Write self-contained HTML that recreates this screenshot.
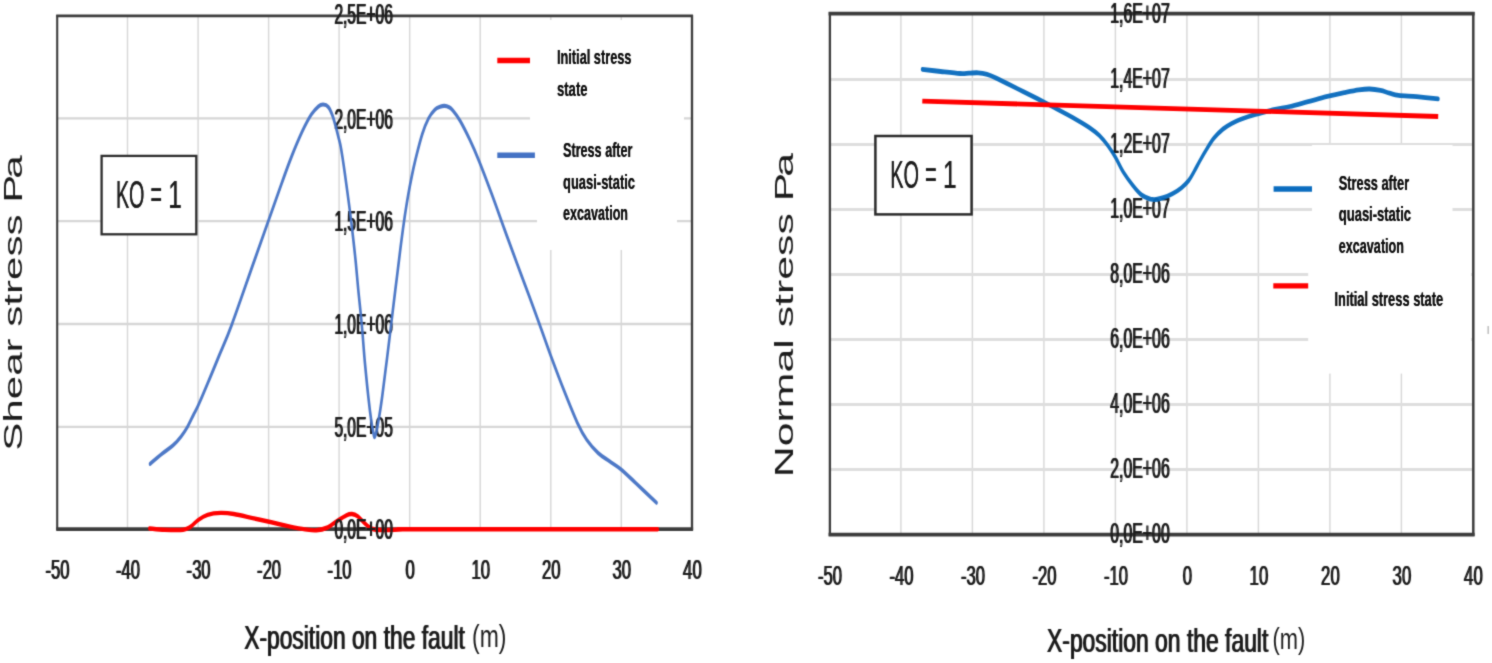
<!DOCTYPE html>
<html lang="en"><head><meta charset="utf-8"><title>Stress along the fault</title>
<style>
html,body{margin:0;padding:0;background:#fff;}
body{width:1492px;height:663px;overflow:hidden;}
svg{display:block;}
</style></head><body>
<svg width="1492" height="663" viewBox="0 0 1492 663">
<defs><filter id="soft" x="0" y="0" width="1492" height="663" filterUnits="userSpaceOnUse" color-interpolation-filters="sRGB"><feConvolveMatrix order="3" kernelMatrix="0.03 0.1 0.03 0.1 0.48 0.1 0.03 0.1 0.03" divisor="1" edgeMode="duplicate" preserveAlpha="false"/></filter></defs>
<g filter="url(#soft)">
<rect width="1492" height="663" fill="#fff"/>
<defs><filter id="fx" x="-2%" y="-10%" width="104%" height="120%"><feOffset dx="0.5" dy="0" result="o"/><feMerge><feMergeNode in="SourceGraphic"/><feMergeNode in="o"/></feMerge></filter><filter id="fz" x="-2%" y="-10%" width="104%" height="120%"><feOffset dx="0.8" dy="0" result="o"/><feMerge><feMergeNode in="SourceGraphic"/><feMergeNode in="o"/></feMerge></filter><filter id="fy" x="-2%" y="-10%" width="104%" height="120%"><feOffset dx="0.3" dy="0" result="o"/><feMerge><feMergeNode in="SourceGraphic"/><feMergeNode in="o"/></feMerge></filter></defs>
<g stroke="#d6d6d6" fill="none">
<line x1="127.5" y1="15.8" x2="127.5" y2="529.1" stroke-width="1.4"/>
<line x1="198.1" y1="15.8" x2="198.1" y2="529.1" stroke-width="1.4"/>
<line x1="268.6" y1="15.8" x2="268.6" y2="529.1" stroke-width="1.4"/>
<line x1="339.1" y1="15.8" x2="339.1" y2="529.1" stroke-width="1.4"/>
<line x1="409.7" y1="15.8" x2="409.7" y2="529.1" stroke-width="1.4"/>
<line x1="480.2" y1="15.8" x2="480.2" y2="529.1" stroke-width="1.4"/>
<line x1="550.8" y1="15.8" x2="550.8" y2="529.1" stroke-width="1.4"/>
<line x1="621.3" y1="15.8" x2="621.3" y2="529.1" stroke-width="1.4"/>
<line x1="57.2" y1="118.4" x2="692.0" y2="118.4" stroke-width="2.3"/>
<line x1="57.2" y1="221.2" x2="692.0" y2="221.2" stroke-width="2.3"/>
<line x1="57.2" y1="324.0" x2="692.0" y2="324.0" stroke-width="2.3"/>
<line x1="57.2" y1="426.8" x2="692.0" y2="426.8" stroke-width="2.3"/>
</g>
<rect x="530" y="20" width="154" height="115" fill="#fff"/>
<rect x="537" y="130" width="140" height="120" fill="#fff"/>
<g stroke="#3c3c3c" fill="none">
<line x1="56.2" y1="15.8" x2="693" y2="15.8" stroke-width="2.7"/>
<line x1="57.2" y1="15" x2="57.2" y2="530" stroke-width="2.1"/>
<line x1="692" y1="15" x2="692" y2="530" stroke-width="2.3"/>
<line x1="56.2" y1="529.1" x2="693.1" y2="529.1" stroke-width="3.6"/>
</g>
<g transform="scale(0.620,1)"><path d="M241.0,528.5C245.0,528.7 256.1,529.6 265.2,529.8C274.2,530.0 288.4,530.3 295.5,529.8C302.6,529.3 303.5,528.2 307.6,526.6C311.6,525.0 315.1,522.0 319.7,520.0C324.2,518.0 328.8,516.0 334.8,514.8C340.9,513.6 348.9,513.0 356.0,512.9C363.0,512.8 368.5,513.1 377.1,514.0C385.7,514.9 397.3,516.7 407.4,518.1C417.5,519.5 427.7,520.9 437.7,522.3C447.8,523.7 458.8,525.4 467.9,526.6C477.0,527.8 485.0,528.8 492.1,529.4C499.2,530.0 504.3,530.6 510.3,530.3C516.4,530.0 522.8,529.0 528.4,527.5C533.9,526.0 538.5,523.0 543.5,521.0C548.6,519.0 554.7,516.5 558.7,515.3C562.7,514.1 564.7,513.8 567.7,514.0C570.8,514.2 573.4,514.7 576.9,516.3C580.5,517.9 585.0,521.7 589.0,523.8C593.1,525.9 596.1,528.0 601.1,529.0C606.2,530.0 611.3,529.9 619.4,530.0C627.4,530.1 639.8,529.5 649.5,529.4C659.2,529.3 608.9,529.2 677.4,529.2C746.0,529.2 996.9,529.2 1060.8,529.2" fill="none" stroke="#ff0000" stroke-width="4.4" stroke-linejoin="round" stroke-linecap="round" stroke-opacity="1.00"/></g>
<g font-family="'Liberation Sans', Arial, sans-serif" fill="#1c1c1c">
<text x="333.9" y="24.4" font-size="29.0" textLength="58.4" lengthAdjust="spacingAndGlyphs" filter="url(#fz)">2,5E+06</text>
<text x="333.9" y="128.5" font-size="29.0" textLength="58.4" lengthAdjust="spacingAndGlyphs" filter="url(#fz)">2,0E+06</text>
<text x="333.9" y="231.3" font-size="29.0" textLength="58.4" lengthAdjust="spacingAndGlyphs" filter="url(#fz)">1,5E+06</text>
<text x="333.9" y="334.1" font-size="29.0" textLength="58.4" lengthAdjust="spacingAndGlyphs" filter="url(#fz)">1,0E+06</text>
<text x="333.9" y="436.9" font-size="29.0" textLength="58.4" lengthAdjust="spacingAndGlyphs" filter="url(#fz)">5,0E+05</text>
<text x="333.9" y="539.4" font-size="29.0" textLength="58.4" lengthAdjust="spacingAndGlyphs" filter="url(#fz)">0,0E+00</text>
<text x="44.9" y="579.3" font-size="28.0" textLength="24.0" lengthAdjust="spacingAndGlyphs" filter="url(#fx)" >-50</text>
<text x="115.5" y="579.3" font-size="28.0" textLength="24.0" lengthAdjust="spacingAndGlyphs" filter="url(#fx)" >-40</text>
<text x="186.1" y="579.3" font-size="28.0" textLength="24.0" lengthAdjust="spacingAndGlyphs" filter="url(#fx)" >-30</text>
<text x="256.6" y="579.3" font-size="28.0" textLength="24.0" lengthAdjust="spacingAndGlyphs" filter="url(#fx)" >-20</text>
<text x="327.1" y="579.3" font-size="28.0" textLength="24.0" lengthAdjust="spacingAndGlyphs" filter="url(#fx)" >-10</text>
<text x="405.1" y="579.3" font-size="28.0" textLength="9.3" lengthAdjust="spacingAndGlyphs" filter="url(#fx)" >0</text>
<text x="470.9" y="579.3" font-size="28.0" textLength="18.6" lengthAdjust="spacingAndGlyphs" filter="url(#fx)" >10</text>
<text x="541.5" y="579.3" font-size="28.0" textLength="18.6" lengthAdjust="spacingAndGlyphs" filter="url(#fx)" >20</text>
<text x="612.0" y="579.3" font-size="28.0" textLength="18.6" lengthAdjust="spacingAndGlyphs" filter="url(#fx)" >30</text>
<text x="682.6" y="579.3" font-size="28.0" textLength="18.6" lengthAdjust="spacingAndGlyphs" filter="url(#fx)" >40</text>
<text x="243.7" y="648.6" font-size="33.5" textLength="220.6" lengthAdjust="spacingAndGlyphs" filter="url(#fx)" >X-position on the fault</text>
<text x="472.0" y="647.0" font-size="31.0" textLength="34.4" lengthAdjust="spacingAndGlyphs" >(m)</text>
<text transform="translate(22.4,450.8) rotate(-90)" font-size="25.5" textLength="295.4" lengthAdjust="spacingAndGlyphs">Shear stress P<tspan dx="-2.6">a</tspan></text>
</g>
<g transform="scale(0.620,1)"><path d="M242.1,463.9C245.3,462.2 255.4,456.8 261.6,453.7C267.8,450.6 274.4,448.1 279.5,445.2C284.6,442.3 288.4,439.4 292.3,436.3C296.1,433.2 299.0,430.5 302.4,426.8C305.8,423.1 309.6,417.8 312.6,414.1C315.6,410.4 316.5,409.9 320.3,404.6C324.2,399.3 330.1,390.6 335.6,382.4C341.2,374.2 347.2,365.1 353.5,355.5C359.9,345.9 364.1,341.0 373.9,324.6C383.6,308.2 399.3,279.8 412.1,257.4C424.9,235.0 440.8,206.7 450.5,190.0C460.1,173.3 463.8,166.7 470.0,157.0C476.2,147.3 482.1,138.7 487.4,131.6C492.8,124.5 497.7,118.8 502.1,114.6C506.5,110.4 510.5,108.0 513.7,106.3C516.9,104.6 518.7,104.4 521.3,104.5C523.9,104.6 526.9,104.9 529.5,107.0C532.2,109.1 534.4,112.1 537.1,117.1C539.8,122.1 543.6,131.5 545.8,137.0C548.0,142.5 548.4,142.2 550.5,150.0C552.6,157.8 555.9,171.8 558.5,183.9C561.2,196.0 564.2,209.9 566.6,222.4C569.1,234.9 571.3,247.3 573.2,258.6C575.1,269.9 576.2,279.1 577.9,290.0C579.6,300.9 581.6,311.7 583.4,323.8C585.2,335.9 586.7,349.9 588.5,362.4C590.4,374.9 592.6,388.8 594.4,398.6C596.1,408.5 597.7,415.9 599.0,421.5C600.3,427.1 601.3,429.8 602.1,432.4C602.9,435.0 603.3,437.2 604.0,437.2C604.8,437.2 605.7,435.2 606.8,432.4C607.9,429.6 609.0,426.3 610.6,420.3C612.3,414.3 614.2,406.6 616.5,396.2C618.7,385.8 621.9,369.7 624.4,357.6C626.8,345.5 628.8,335.1 631.0,323.8C633.2,312.5 635.7,299.6 637.6,290.0C639.5,280.4 640.8,274.3 642.4,266.0C644.1,257.7 645.8,248.3 647.6,240.0C649.3,231.7 651.2,223.3 652.9,216.0C654.7,208.7 656.2,202.8 658.1,196.0C660.0,189.2 662.3,181.7 664.4,175.5C666.4,169.3 667.6,165.9 670.3,159.0C673.1,152.1 677.5,141.1 681.0,134.3C684.4,127.6 687.7,122.6 691.1,118.5C694.5,114.4 698.2,111.8 701.3,109.8C704.4,107.8 707.1,107.4 709.7,106.8C712.3,106.2 714.5,105.8 716.9,105.9C719.4,106.0 721.9,106.4 724.2,107.2C726.5,108.0 727.6,108.3 730.6,110.6C733.7,112.9 737.8,116.2 742.3,121.0C746.7,125.8 752.5,132.9 757.6,139.6C762.7,146.3 766.9,152.2 772.9,161.3C778.9,170.5 786.6,183.2 793.4,194.5C800.2,205.8 806.9,217.8 813.7,229.4C820.5,241.0 827.4,252.6 834.2,264.0C841.0,275.4 848.7,287.9 854.7,298.0C860.7,308.1 864.7,314.8 870.3,324.5C876.0,334.2 882.0,345.0 888.5,356.0C895.1,367.0 902.7,379.6 909.8,390.7C916.9,401.8 925.1,414.5 931.1,422.7C937.2,430.9 940.7,434.7 946.3,439.7C951.9,444.7 958.4,449.3 964.5,452.9C970.6,456.5 976.8,458.5 982.9,461.2C989.0,463.9 994.1,465.5 1001.1,469.1C1008.2,472.7 1015.7,477.4 1025.3,483.0C1034.9,488.6 1053.3,499.4 1058.9,502.7" fill="none" stroke="#4472c4" stroke-width="4.2" stroke-linejoin="round" stroke-linecap="round" stroke-opacity="0.95"/></g>
<rect x="101.6" y="155.9" width="94.7" height="78.4" fill="#fff" stroke="#2c2c2c" stroke-width="2.3"/>
<g font-family="'Liberation Sans', Arial, sans-serif" fill="#1c1c1c">
<text y="208" font-size="38.5" filter="url(#fy)"><tspan x="115.9" textLength="28.6" lengthAdjust="spacingAndGlyphs">KO</tspan><tspan x="145" textLength="22.5" lengthAdjust="spacingAndGlyphs"> = </tspan><tspan x="168.2" textLength="13.5" lengthAdjust="spacingAndGlyphs">1</tspan></text>
</g>
<line x1="497.3" y1="60.5" x2="530" y2="60.5" stroke="#ff0000" stroke-width="5.6"/>
<line x1="497.3" y1="155.3" x2="534.9" y2="155.3" stroke="#4472c4" stroke-width="5.6"/>
<g font-family="'Liberation Sans', Arial, sans-serif" fill="#111" font-weight="bold">
<text x="557.0" y="64.3" font-size="21.0" textLength="74.4" lengthAdjust="spacingAndGlyphs" filter="url(#fy)">Initial stress</text>
<text x="557.0" y="96.3" font-size="21.0" textLength="30.5" lengthAdjust="spacingAndGlyphs" filter="url(#fy)">state</text>
<text x="563.0" y="156.9" font-size="21.0" textLength="69.5" lengthAdjust="spacingAndGlyphs" filter="url(#fy)">Stress after</text>
<text x="563.0" y="189.0" font-size="21.0" textLength="72.0" lengthAdjust="spacingAndGlyphs" filter="url(#fy)">quasi-static</text>
<text x="563.0" y="220.0" font-size="21.0" textLength="65.0" lengthAdjust="spacingAndGlyphs" filter="url(#fy)">excavation</text>
</g>
<g stroke="#d6d6d6" fill="none">
<line x1="900.9" y1="13.6" x2="900.9" y2="534.7" stroke-width="1.4"/>
<line x1="972.4" y1="13.6" x2="972.4" y2="534.7" stroke-width="1.4"/>
<line x1="1043.9" y1="13.6" x2="1043.9" y2="534.7" stroke-width="1.4"/>
<line x1="1115.4" y1="13.6" x2="1115.4" y2="534.7" stroke-width="1.4"/>
<line x1="1186.9" y1="13.6" x2="1186.9" y2="534.7" stroke-width="1.4"/>
<line x1="1258.4" y1="13.6" x2="1258.4" y2="534.7" stroke-width="1.4"/>
<line x1="1329.9" y1="13.6" x2="1329.9" y2="534.7" stroke-width="1.4"/>
<line x1="1401.4" y1="13.6" x2="1401.4" y2="534.7" stroke-width="1.4"/>
<line x1="829.9" y1="79.4" x2="1473.3" y2="79.4" stroke-width="3" stroke="#dedede"/>
<line x1="829.9" y1="144.4" x2="1473.3" y2="144.4" stroke-width="3" stroke="#dedede"/>
<line x1="829.9" y1="209.4" x2="1473.3" y2="209.4" stroke-width="3" stroke="#dedede"/>
<line x1="829.9" y1="274.4" x2="1473.3" y2="274.4" stroke-width="3" stroke="#dedede"/>
<line x1="829.9" y1="339.4" x2="1473.3" y2="339.4" stroke-width="3" stroke="#dedede"/>
<line x1="829.9" y1="404.4" x2="1473.3" y2="404.4" stroke-width="3" stroke="#dedede"/>
<line x1="829.9" y1="469.4" x2="1473.3" y2="469.4" stroke-width="3" stroke="#dedede"/>
</g>
<rect x="1312" y="145" width="140.5" height="110" fill="#fff"/>
<rect x="1308.2" y="245" width="163" height="128.6" fill="#fff"/>
<g stroke="#3c3c3c" fill="none">
<line x1="828.6" y1="13.6" x2="1474.6" y2="13.6" stroke-width="3.7"/>
<line x1="829.9" y1="12" x2="829.9" y2="536" stroke-width="2.3"/>
<line x1="1473.3" y1="12" x2="1473.3" y2="536" stroke-width="2.5"/>
<line x1="828.6" y1="534.7" x2="1474.6" y2="534.7" stroke-width="3.8"/>
</g>
<g font-family="'Liberation Sans', Arial, sans-serif" fill="#1c1c1c">
<text x="1109.8" y="23.2" font-size="29.0" textLength="59.4" lengthAdjust="spacingAndGlyphs" filter="url(#fz)">1,6E+07</text>
<text x="1109.8" y="88.2" font-size="29.0" textLength="59.4" lengthAdjust="spacingAndGlyphs" filter="url(#fz)">1,4E+07</text>
<text x="1109.8" y="153.2" font-size="29.0" textLength="59.4" lengthAdjust="spacingAndGlyphs" filter="url(#fz)">1,2E+07</text>
<text x="1109.8" y="218.2" font-size="29.0" textLength="59.4" lengthAdjust="spacingAndGlyphs" filter="url(#fz)">1,0E+07</text>
<text x="1109.8" y="283.2" font-size="29.0" textLength="59.4" lengthAdjust="spacingAndGlyphs" filter="url(#fz)">8,0E+06</text>
<text x="1109.8" y="348.2" font-size="29.0" textLength="59.4" lengthAdjust="spacingAndGlyphs" filter="url(#fz)">6,0E+06</text>
<text x="1109.8" y="413.2" font-size="29.0" textLength="59.4" lengthAdjust="spacingAndGlyphs" filter="url(#fz)">4,0E+06</text>
<text x="1109.8" y="478.2" font-size="29.0" textLength="59.4" lengthAdjust="spacingAndGlyphs" filter="url(#fz)">2,0E+06</text>
<text x="1109.8" y="543.2" font-size="29.0" textLength="59.4" lengthAdjust="spacingAndGlyphs" filter="url(#fz)">0,0E+00</text>
<text x="817.5" y="584.7" font-size="28.0" textLength="24.0" lengthAdjust="spacingAndGlyphs" filter="url(#fx)" >-50</text>
<text x="888.9" y="584.7" font-size="28.0" textLength="24.0" lengthAdjust="spacingAndGlyphs" filter="url(#fx)" >-40</text>
<text x="960.4" y="584.7" font-size="28.0" textLength="24.0" lengthAdjust="spacingAndGlyphs" filter="url(#fx)" >-30</text>
<text x="1031.9" y="584.7" font-size="28.0" textLength="24.0" lengthAdjust="spacingAndGlyphs" filter="url(#fx)" >-20</text>
<text x="1103.4" y="584.7" font-size="28.0" textLength="24.0" lengthAdjust="spacingAndGlyphs" filter="url(#fx)" >-10</text>
<text x="1182.2" y="584.7" font-size="28.0" textLength="9.3" lengthAdjust="spacingAndGlyphs" filter="url(#fx)" >0</text>
<text x="1249.1" y="584.7" font-size="28.0" textLength="18.6" lengthAdjust="spacingAndGlyphs" filter="url(#fx)" >10</text>
<text x="1320.6" y="584.7" font-size="28.0" textLength="18.6" lengthAdjust="spacingAndGlyphs" filter="url(#fx)" >20</text>
<text x="1392.1" y="584.7" font-size="28.0" textLength="18.6" lengthAdjust="spacingAndGlyphs" filter="url(#fx)" >30</text>
<text x="1463.6" y="584.7" font-size="28.0" textLength="18.6" lengthAdjust="spacingAndGlyphs" filter="url(#fx)" >40</text>
<text x="1046.5" y="651.6" font-size="34.0" textLength="221.3" lengthAdjust="spacingAndGlyphs" filter="url(#fx)" >X-position on the fault</text>
<text x="1272.4" y="648.6" font-size="29.0" textLength="32.8" lengthAdjust="spacingAndGlyphs" >(m)</text>
<text transform="translate(792.6,477.3) rotate(-90)" font-size="26.5" textLength="324.3" lengthAdjust="spacingAndGlyphs">Normal stress P<tspan dx="-2.6">a</tspan></text>
</g>
<g transform="scale(0.620,1)"><path d="M1487.6,69.3C1492.5,69.7 1507.1,70.8 1517.3,71.5C1527.4,72.2 1540.8,73.2 1548.4,73.5C1556.0,73.8 1558.0,73.3 1562.9,73.2C1567.8,73.1 1572.7,72.6 1577.6,72.8C1582.4,73.0 1587.2,73.5 1592.1,74.4C1597.0,75.3 1600.9,76.4 1606.8,78.1C1612.6,79.8 1620.0,82.2 1627.3,84.4C1634.5,86.7 1642.7,89.2 1650.5,91.6C1658.3,94.0 1666.1,96.4 1673.9,98.9C1681.7,101.4 1689.5,103.9 1697.3,106.5C1705.1,109.1 1713.3,111.8 1720.6,114.3C1728.0,116.8 1734.8,119.2 1741.1,121.5C1747.4,123.8 1753.2,125.9 1758.5,128.2C1763.9,130.5 1768.5,132.6 1773.2,135.5C1777.9,138.4 1782.4,141.8 1786.8,145.5C1791.1,149.2 1795.0,152.9 1799.2,157.4C1803.4,161.9 1807.5,167.8 1812.1,172.4C1816.7,177.0 1821.9,181.3 1826.8,185.1C1831.6,188.9 1836.4,192.7 1841.3,195.0C1846.2,197.3 1852.1,198.4 1856.0,199.2C1859.9,199.9 1861.3,199.8 1864.7,199.5C1868.1,199.2 1871.9,198.6 1876.3,197.7C1880.7,196.8 1886.1,195.5 1891.0,193.8C1895.8,192.2 1901.1,190.0 1905.5,187.8C1909.9,185.6 1913.8,183.2 1917.3,180.5C1920.7,177.8 1923.1,174.7 1926.0,171.5C1928.9,168.3 1931.3,165.3 1934.7,161.5C1938.1,157.7 1942.6,152.8 1946.5,148.9C1950.3,145.0 1953.7,141.3 1958.1,138.0C1962.4,134.7 1967.9,131.5 1972.7,129.0C1977.6,126.5 1981.9,125.0 1987.3,123.2C1992.6,121.5 1999.0,119.9 2004.8,118.5C2010.7,117.1 2017.3,115.7 2022.3,114.8C2027.2,113.9 2029.0,113.9 2034.7,113.0C2040.4,112.1 2048.8,110.5 2056.5,109.4C2064.1,108.3 2071.7,107.8 2080.6,106.5C2089.5,105.2 2100.1,103.2 2109.8,101.6C2119.6,100.0 2129.3,98.2 2139.0,96.7C2148.8,95.2 2159.5,93.7 2168.2,92.6C2177.0,91.5 2184.8,90.5 2191.6,89.9C2198.4,89.3 2203.2,88.9 2209.0,89.0C2214.9,89.1 2221.3,89.7 2226.6,90.4C2232.0,91.1 2236.3,92.3 2241.1,93.1C2246.0,93.9 2248.5,94.7 2255.8,95.3C2263.1,95.9 2274.4,96.1 2285.0,96.7C2295.6,97.3 2313.9,98.5 2319.7,98.9" fill="none" stroke="#0468bc" stroke-width="4.8" stroke-linejoin="round" stroke-linecap="round" stroke-opacity="0.94"/></g>
<line x1="922.3" y1="101.1" x2="1438.2" y2="116.5" stroke="#ff0000" stroke-width="4.8"/>
<rect x="875.4" y="136" width="96.2" height="78.4" fill="#fff" stroke="#2a2a2a" stroke-width="2.5"/>
<g font-family="'Liberation Sans', Arial, sans-serif" fill="#1c1c1c">
<text y="188" font-size="38.5" filter="url(#fy)"><tspan x="890.2" textLength="28.8" lengthAdjust="spacingAndGlyphs">KO</tspan><tspan x="919.5" textLength="22.7" lengthAdjust="spacingAndGlyphs"> = </tspan><tspan x="943" textLength="13.6" lengthAdjust="spacingAndGlyphs">1</tspan></text>
</g>
<line x1="1273.6" y1="189" x2="1312" y2="189" stroke="#0a6cbf" stroke-width="5.6"/>
<line x1="1273.3" y1="285.9" x2="1308.2" y2="285.9" stroke="#ff0000" stroke-width="5.4"/>
<g font-family="'Liberation Sans', Arial, sans-serif" fill="#111" font-weight="bold">
<text x="1338.8" y="189.7" font-size="21.0" textLength="70.4" lengthAdjust="spacingAndGlyphs" filter="url(#fy)">Stress after</text>
<text x="1338.8" y="221.3" font-size="21.0" textLength="72.2" lengthAdjust="spacingAndGlyphs" filter="url(#fy)">quasi-static</text>
<text x="1338.8" y="252.5" font-size="21.0" textLength="65.2" lengthAdjust="spacingAndGlyphs" filter="url(#fy)">excavation</text>
<text x="1334.5" y="305.5" font-size="21.0" textLength="108.7" lengthAdjust="spacingAndGlyphs" filter="url(#fy)">Initial stress state</text>
</g>
<line x1="1488.2" y1="326" x2="1488.2" y2="334" stroke="#bdbdbd" stroke-width="1.5"/>
</g>
</svg>
</body></html>
